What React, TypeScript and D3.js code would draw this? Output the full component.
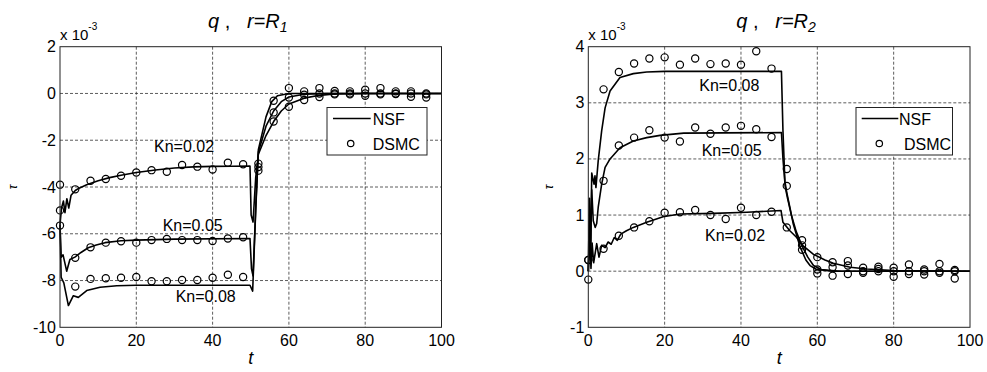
import React from 'react';
import * as d3 from 'd3';

// ---------- data ----------
const xTicks = [0, 20, 40, 60, 80, 100];
const yTicksR1 = [-10, -8, -6, -4, -2, 0, 2];
const yTicksR2 = [-1, 0, 1, 2, 3, 4];
const knLabels = ['Kn=0.02', 'Kn=0.05', 'Kn=0.08'];

// NSF curves [t, value*1e3]
const nsfR1_002: [number, number][] = [[0,-5.6],[0.4,-4.9],[0.9,-4.6],[1.3,-5.1],[1.8,-4.5],[2.3,-4.9],[2.9,-4.35],[4,-4.15],[5,-4.05],[7,-3.9],[10,-3.73],[13,-3.6],[16,-3.5],[20,-3.38],[25,-3.27],[30,-3.19],[35,-3.14],[40,-3.12],[45,-3.11],[49.8,-3.1],[50.1,-5.2],[50.6,-5.5],[51.3,-3.6],[52,-2.6],[54,-1.8],[56,-1.2],[58,-0.75],[60,-0.45],[64,-0.2],[68,-0.08],[72,-0.02],[80,0],[100,0]];
const nsfR1_005: [number, number][] = [[0,-5.6],[0.3,-7.0],[0.8,-6.9],[1.75,-7.6],[2.6,-7.1],[3.9,-7.0],[5.5,-6.8],[7.4,-6.6],[9.5,-6.48],[11.8,-6.38],[16,-6.3],[20,-6.27],[30,-6.23],[49.8,-6.2],[50.2,-7.5],[50.6,-7.8],[51.4,-4.5],[52,-2.5],[54,-1.4],[56,-0.75],[58,-0.35],[60,-0.15],[64,-0.03],[70,0],[100,0]];
const nsfR1_008: [number, number][] = [[0,-5.6],[0.3,-7.86],[1,-8.1],[2.2,-9.07],[3.5,-8.65],[4.8,-8.72],[7,-8.43],[10.5,-8.29],[14.9,-8.22],[20,-8.2],[49.8,-8.2],[50.5,-8.45],[51.3,-5],[52,-2.4],[54,-1.0],[55.5,-0.35],[57,-0.1],[60,0],[100,0]];

const nsfR2_002: [number, number][] = [[0,0],[0.4,0.6],[0.7,0.05],[1.0,0.5],[1.4,0.15],[2.2,0.49],[2.8,0.25],[3.5,0.46],[4.4,0.42],[5.2,0.52],[6,0.48],[6.8,0.6],[7.6,0.55],[8.5,0.66],[10,0.72],[11.8,0.78],[15.3,0.87],[19.6,0.97],[24,1.02],[32.8,1.03],[41.5,1.05],[50.5,1.08],[51,0.87],[52.8,0.72],[54.6,0.6],[56.3,0.45],[59,0.3],[62,0.2],[64.2,0.14],[68.6,0.07],[73,0.04],[80,0.01],[100,0]];
const nsfR2_005: [number, number][] = [[0,0],[0.3,1.3],[0.6,0.4],[0.9,1.45],[1.3,0.9],[1.8,0.78],[2.2,0.85],[2.6,1.14],[3.5,1.55],[4.4,1.85],[5.7,2.0],[8.3,2.2],[11.8,2.32],[15.3,2.38],[18.8,2.42],[25,2.46],[50.6,2.47],[51,2.0],[51.6,1.5],[52.2,1.3],[53.2,1.0],[54.5,0.7],[56,0.45],[57.5,0.25],[59,0.1],[61,0.03],[66,0],[100,0]];
const nsfR2_008: [number, number][] = [[0,0],[0.4,1.0],[0.6,0.2],[0.9,1.75],[1.5,1.55],[1.75,1.7],[2.0,1.49],[2.6,1.97],[3.5,2.5],[4.4,2.91],[5.7,3.21],[8.3,3.45],[11.8,3.52],[15.3,3.55],[20,3.56],[50.6,3.56],[51,2.5],[51.5,1.6],[52,1.4],[52.8,1.14],[53.7,0.84],[55.5,0.43],[57,0.2],[58.1,0.1],[59.8,0.03],[64,0],[100,0]];

// DSMC samples
const tDsmc = [0,4,8,12,16,20,24,28,32,36,40,44,48,52,56,60,64,68,72,76,80,84,88,92,96];
const dsmcR1_002 = [-3.9,-4.1,-3.73,-3.66,-3.52,-3.38,-3.28,-3.35,-3.06,-3.13,-3.25,-2.96,-3.03,-3.0,-1.2,-0.57,-0.28,-0.15,-0.04,-0.04,-0.1,-0.04,-0.02,-0.14,-0.17];
const dsmcR1_005 = [-5.0,-7.03,-6.58,-6.38,-6.32,-6.38,-6.27,-6.22,-6.27,-6.27,-6.31,-6.2,-6.15,-3.15,-0.81,-0.17,-0.05,0.0,0.11,0.09,0.16,0.23,0.09,0.09,-0.04];
const dsmcR1_008 = [-5.65,-8.26,-7.93,-7.9,-7.88,-7.85,-8.03,-8.03,-7.98,-7.98,-7.88,-7.75,-7.85,-3.3,-0.31,0.23,0.09,0.23,0.0,0.0,0.0,0.0,0.0,0.0,0.0];
const dsmcR2_002 = [0.2,0.4,0.63,0.78,0.89,1.04,1.05,1.09,1.0,0.93,1.13,1.0,1.06,0.78,0.55,0.25,0.16,0.18,0.06,0.08,0.06,0.12,0.03,0.13,0.02];
const dsmcR2_005 = [-0.15,1.61,2.24,2.38,2.51,2.38,2.31,2.56,2.45,2.56,2.59,2.53,2.39,1.52,0.46,0.03,0.07,0.1,-0.03,0.04,-0.1,-0.05,-0.06,-0.03,-0.13];
const dsmcR2_008 = [0.2,3.24,3.55,3.7,3.79,3.81,3.68,3.79,3.69,3.7,3.68,3.92,3.61,1.82,0.38,-0.04,-0.08,-0.05,0.0,0.0,0.0,0.0,0.0,0.0,0.0];

const FONT = 'Liberation Sans, Arial, Helvetica, sans-serif';

type PanelProps = {
  x0: number; x1: number; y0: number; y1: number;
  yDomain: [number, number]; yTicks: number[];
  nsf: [number, number][][]; dsmc: number[][];
  sub: string;
  labels: { x: number; y: number; text: string }[];
  legend: { bx: number; bw: number; l0: number; l1: number; tx: number; mx: number; dx: number };
  ylabX: number;
};

function Panel(p: PanelProps) {
  const xs = d3.scaleLinear().domain([0, 100]).range([p.x0, p.x1]);
  const ys = d3.scaleLinear().domain(p.yDomain).range([p.y1, p.y0]);
  const line = d3.line<[number, number]>().x(d => xs(d[0])).y(d => ys(d[1]));
  const midX = (p.x0 + p.x1) / 2;
  const midY = (p.y0 + p.y1) / 2;
  return (
    <g>
      {/* grid */}
      {xTicks.slice(1, -1).map(t => (
        <line key={'gx' + t} x1={xs(t)} x2={xs(t)} y1={p.y0} y2={p.y1} stroke="#333" strokeWidth={0.8} strokeDasharray="3,2" />
      ))}
      {p.yTicks.slice(1, -1).map(v => (
        <line key={'gy' + v} x1={p.x0} x2={p.x1} y1={ys(v)} y2={ys(v)} stroke="#333" strokeWidth={0.8} strokeDasharray="3,2" />
      ))}
      {/* NSF */}
      {p.nsf.map((c, i) => (
        <path key={'n' + i} d={line(c) || ''} fill="none" stroke="#000" strokeWidth={1.6} strokeLinejoin="round" />
      ))}
      {/* DSMC */}
      {p.dsmc.map((s, i) => s.map((v, j) => (
        <circle key={'d' + i + '_' + j} cx={xs(tDsmc[j])} cy={ys(v)} r={3.6} fill="none" stroke="#000" strokeWidth={1.2} />
      )))}
      {/* box */}
      <rect x={p.x0} y={p.y0} width={p.x1 - p.x0} height={p.y1 - p.y0} fill="none" stroke="#222" strokeWidth={1} />
      {/* tick labels */}
      {xTicks.map(t => (
        <text key={'xt' + t} x={xs(t)} y={p.y1 + 19} textAnchor="middle" fontSize={16} fontFamily={FONT}>{t}</text>
      ))}
      {p.yTicks.map(v => (
        <text key={'yt' + v} x={p.x0 - 4} y={ys(v) + 5.5} textAnchor="end" fontSize={16} fontFamily={FONT}>{v}</text>
      ))}
      {/* exponent */}
      <text x={p.x0} y={p.y0 - 7} fontSize={15} fontFamily={FONT}>x 10<tspan dy={-10} fontSize={10}>-3</tspan></text>
      {/* title */}
      <text x={p.x0 + 148} y={28} fontSize={20} fontFamily={FONT} style={{ whiteSpace: 'pre' }}>
        <tspan fontStyle="italic">q</tspan><tspan>{' ,   '}</tspan><tspan fontStyle="italic">r=R</tspan><tspan fontStyle="italic" fontSize={14} dy={4}>{p.sub}</tspan>
      </text>
      {/* axis labels */}
      <text x={midX} y={364} textAnchor="middle" fontSize={18} fontStyle="italic" fontFamily={FONT}>t</text>
      <text x={p.ylabX} y={midY} textAnchor="middle" fontSize={12} fontStyle="italic" fontFamily={FONT} transform={`rotate(-90 ${p.ylabX} ${midY})`}>τ</text>
      {/* Kn labels */}
      {p.labels.map((l, i) => (
        <text key={'kl' + i} x={l.x} y={l.y} fontSize={16} fontFamily={FONT}>{l.text}</text>
      ))}
      {/* legend */}
      <rect x={p.legend.bx} y={107.5} width={p.legend.bw} height={47.5} fill="#fff" stroke="#222" strokeWidth={1} />
      <line x1={p.legend.l0} x2={p.legend.l1} y1={118.5} y2={118.5} stroke="#000" strokeWidth={1.6} />
      <text x={p.legend.tx} y={124.5} fontSize={16} fontFamily={FONT}>NSF</text>
      <circle cx={p.legend.mx} cy={143.5} r={3.2} fill="none" stroke="#000" strokeWidth={1.2} />
      <text x={p.legend.dx} y={149.5} fontSize={16} fontFamily={FONT}>DSMC</text>
    </g>
  );
}

export default function App() {
  return (
    <svg width={987} height={372} style={{ position: 'absolute', left: 0, top: 0, background: '#fff' }}>
      <rect x={0} y={0} width={987} height={372} fill="#fff" />
      <Panel
        x0={60} x1={441.5} y0={46.7} y1={327.3}
        yDomain={[-10, 2]} yTicks={yTicksR1}
        nsf={[nsfR1_002, nsfR1_005, nsfR1_008]}
        dsmc={[dsmcR1_002, dsmcR1_005, dsmcR1_008]}
        sub="1"
        labels={[{ x: 154, y: 152, text: knLabels[0] }, { x: 162.7, y: 230.5, text: knLabels[1] }, { x: 175.7, y: 302, text: knLabels[2] }]}
        legend={{ bx: 327, bw: 100, l0: 333, l1: 370.7, tx: 372.7, mx: 350.7, dx: 372.7 }}
        ylabX={17}
      />
      <Panel
        x0={588.3} x1={970} y0={46.7} y1={327.3}
        yDomain={[-1, 4]} yTicks={yTicksR2}
        nsf={[nsfR2_002, nsfR2_005, nsfR2_008]}
        dsmc={[dsmcR2_002, dsmcR2_005, dsmcR2_008]}
        sub="2"
        labels={[{ x: 705, y: 241, text: knLabels[0] }, { x: 701.7, y: 155.5, text: knLabels[1] }, { x: 699.3, y: 91, text: knLabels[2] }]}
        legend={{ bx: 856, bw: 96.5, l0: 861.7, l1: 898.3, tx: 899, mx: 879.3, dx: 904 }}
        ylabX={553}
      />
    </svg>
  );
}
